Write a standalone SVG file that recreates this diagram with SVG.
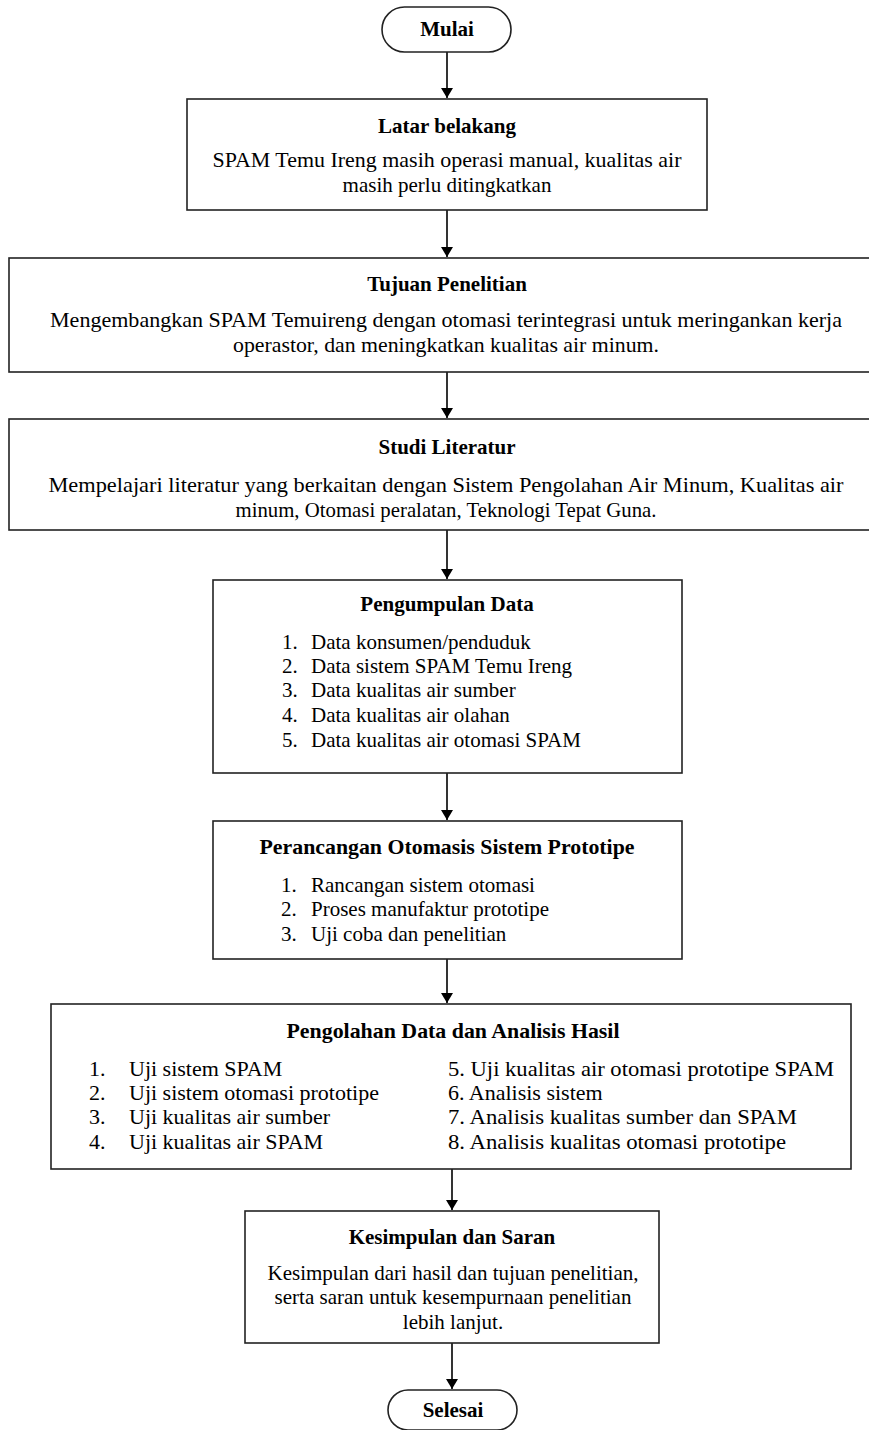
<svg xmlns="http://www.w3.org/2000/svg" width="869" height="1430" viewBox="0 0 869 1430">
  <style>
    .box { fill: #ffffff; stroke: #222222; stroke-width: 1.6; }
    .t { font-family: "Liberation Serif", "Times New Roman", serif; font-size: 21px; fill: #000000; }
    .big { font-size: 22px; }
    .h { font-weight: bold; }
    .c { text-anchor: middle; }
    .edge { stroke: #000000; stroke-width: 1.6; fill: none; marker-end: url(#head); }
  </style>
  <defs>
    <marker id="head" viewBox="0 0 10 12" refX="10" refY="6" markerWidth="10" markerHeight="12" markerUnits="userSpaceOnUse" orient="auto">
      <path d="M0,0 L10,6 L0,12 Z" fill="#000000"/>
    </marker>
  </defs>
  <rect width="869" height="1430" fill="#ffffff"/>

  <g id="connectors">
    <line class="edge" x1="447" y1="52" x2="447" y2="98"/>
    <line class="edge" x1="447" y1="210" x2="447" y2="257"/>
    <line class="edge" x1="447" y1="372" x2="447" y2="418"/>
    <line class="edge" x1="447" y1="530" x2="447" y2="579"/>
    <line class="edge" x1="447" y1="773" x2="447" y2="820"/>
    <line class="edge" x1="447" y1="959" x2="447" y2="1003"/>
    <line class="edge" x1="452" y1="1169" x2="452" y2="1210"/>
    <line class="edge" x1="452" y1="1343" x2="452" y2="1389"/>
  </g>

  <g id="mulai">
    <rect class="box" x="382" y="7" width="129" height="45" rx="22.5"/>
    <text class="t h c" x="447" y="36">Mulai</text>
  </g>

  <g id="latar-belakang">
    <rect class="box" x="187" y="99" width="520" height="111"/>
    <text class="t h c" x="447" y="133">Latar belakang</text>
    <text class="t c" x="447" y="167" textLength="469" lengthAdjust="spacingAndGlyphs">SPAM Temu Ireng masih operasi manual, kualitas air</text>
    <text class="t c" x="447" y="192">masih perlu ditingkatkan</text>
  </g>

  <g id="tujuan-penelitian">
    <rect class="box" x="9" y="258" width="876" height="114"/>
    <text class="t h c" x="447" y="291">Tujuan Penelitian</text>
    <text class="t c" x="446" y="327" textLength="792" lengthAdjust="spacingAndGlyphs">Mengembangkan SPAM Temuireng dengan otomasi terintegrasi untuk meringankan kerja</text>
    <text class="t c" x="446" y="352" textLength="426" lengthAdjust="spacingAndGlyphs">operastor, dan meningkatkan kualitas air minum.</text>
  </g>

  <g id="studi-literatur">
    <rect class="box" x="9" y="419" width="876" height="111"/>
    <text class="t h c" x="447" y="454">Studi Literatur</text>
    <text class="t c" x="446" y="492" textLength="795" lengthAdjust="spacingAndGlyphs">Mempelajari literatur yang berkaitan dengan Sistem Pengolahan Air Minum, Kualitas air</text>
    <text class="t c" x="446" y="517" textLength="421" lengthAdjust="spacingAndGlyphs">minum, Otomasi peralatan, Teknologi Tepat Guna.</text>
  </g>

  <g id="pengumpulan-data">
    <rect class="box" x="213" y="580" width="469" height="193"/>
    <text class="t h c" x="447" y="611">Pengumpulan Data</text>
    <text class="t" x="282" y="649">1.</text>
    <text class="t" x="311" y="649">Data konsumen/penduduk</text>
    <text class="t" x="282" y="673">2.</text>
    <text class="t" x="311" y="673">Data sistem SPAM Temu Ireng</text>
    <text class="t" x="282" y="697">3.</text>
    <text class="t" x="311" y="697">Data kualitas air sumber</text>
    <text class="t" x="282" y="722">4.</text>
    <text class="t" x="311" y="722">Data kualitas air olahan</text>
    <text class="t" x="282" y="747">5.</text>
    <text class="t" x="311" y="747">Data kualitas air otomasi SPAM</text>
  </g>

  <g id="perancangan">
    <rect class="box" x="213" y="821" width="469" height="138"/>
    <text class="t h c" x="447" y="854" textLength="375" lengthAdjust="spacingAndGlyphs">Perancangan Otomasis Sistem Prototipe</text>
    <text class="t" x="281" y="892">1.</text>
    <text class="t" x="311" y="892">Rancangan sistem otomasi</text>
    <text class="t" x="281" y="916">2.</text>
    <text class="t" x="311" y="916">Proses manufaktur prototipe</text>
    <text class="t" x="281" y="941">3.</text>
    <text class="t" x="311" y="941">Uji coba dan penelitian</text>
  </g>

  <g id="pengolahan-data">
    <rect class="box" x="51" y="1004" width="800" height="165"/>
    <text class="t h c" x="453" y="1038" textLength="333" lengthAdjust="spacingAndGlyphs">Pengolahan Data dan Analisis Hasil</text>
    <text class="t big" x="89" y="1076">1.</text>
    <text class="t big" x="129" y="1076">Uji sistem SPAM</text>
    <text class="t big" x="89" y="1100">2.</text>
    <text class="t big" x="129" y="1100">Uji sistem otomasi prototipe</text>
    <text class="t big" x="89" y="1124">3.</text>
    <text class="t big" x="129" y="1124">Uji kualitas air sumber</text>
    <text class="t big" x="89" y="1149">4.</text>
    <text class="t big" x="129" y="1149">Uji kualitas air SPAM</text>
    <text class="t big" x="448" y="1076" textLength="386" lengthAdjust="spacingAndGlyphs">5. Uji kualitas air otomasi prototipe SPAM</text>
    <text class="t big" x="448" y="1100">6. Analisis sistem</text>
    <text class="t big" x="448" y="1124" textLength="349" lengthAdjust="spacingAndGlyphs">7. Analisis kualitas sumber dan SPAM</text>
    <text class="t big" x="448" y="1149" textLength="338" lengthAdjust="spacingAndGlyphs">8. Analisis kualitas otomasi prototipe</text>
  </g>

  <g id="kesimpulan">
    <rect class="box" x="245" y="1211" width="414" height="132"/>
    <text class="t h c" x="452" y="1244">Kesimpulan dan Saran</text>
    <text class="t c" x="453" y="1280">Kesimpulan dari hasil dan tujuan penelitian,</text>
    <text class="t c" x="453" y="1304">serta saran untuk kesempurnaan penelitian</text>
    <text class="t c" x="453" y="1329">lebih lanjut.</text>
  </g>

  <g id="selesai">
    <rect class="box" x="388" y="1390" width="129" height="40" rx="20"/>
    <text class="t h c" x="453" y="1417">Selesai</text>
  </g>
</svg>
